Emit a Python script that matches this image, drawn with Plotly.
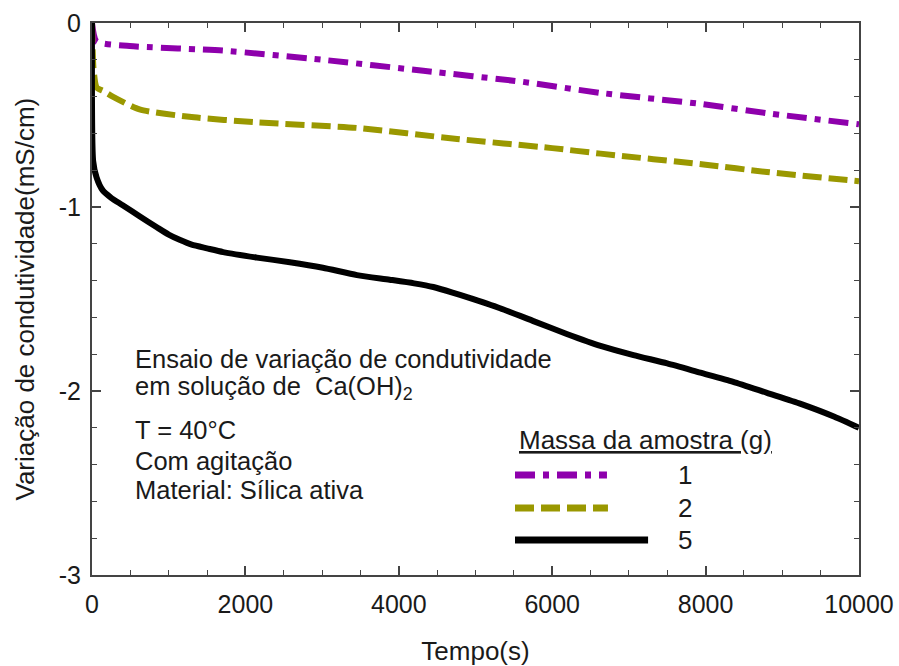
import plotly.graph_objects as go

# Time (s) and conductivity change (mS/cm) for each sample mass
tempo_1g = [0, 60, 490, 1710, 3010, 4320, 5620, 6630, 7940, 8800, 10000]
cond_1g = [0, -0.10, -0.125, -0.15, -0.20, -0.26, -0.32, -0.38, -0.44, -0.49, -0.55]

tempo_2g = [0, 20, 60, 150, 270, 620, 1270, 2150, 3450, 4760, 6000, 6630, 8000, 8800, 10000]
cond_2g = [0, -0.25, -0.35, -0.37, -0.40, -0.47, -0.51, -0.54, -0.57, -0.63, -0.68, -0.71, -0.77, -0.81, -0.86]

tempo_5g = [0, 15, 60, 140, 250, 400, 620, 845, 1000, 1150, 1300, 1500, 1710, 2150, 2580,
            3010, 3455, 3880, 4200, 4450, 4700, 4890, 5320, 5755, 6190, 6630, 7060, 7500,
            7930, 8360, 8800, 9240, 9680, 10000]
cond_5g = [0, -0.75, -0.84, -0.91, -0.95, -0.99, -1.05, -1.11, -1.15, -1.18, -1.205, -1.225,
           -1.245, -1.275, -1.30, -1.33, -1.37, -1.395, -1.415, -1.435, -1.465, -1.49, -1.55,
           -1.62, -1.69, -1.755, -1.805, -1.85, -1.90, -1.95, -2.01, -2.07, -2.14, -2.20]

legend_labels = ["1", "2", "5"]
x_ticks = [0, 2000, 4000, 6000, 8000, 10000]
y_ticks = [0, -1, -2, -3]
y_tick_text = ["0", "-1", "-2", "-3"]

PURPLE = "#8E00AC"
OLIVE = "#9A9800"
BLACK = "#000000"
FONT = "Liberation Sans, Arial, sans-serif"
TXT = "#1a1a1a"
AX = "#444444"

styles = [
    (tempo_1g, cond_1g, PURPLE, "20px,8px,6px,8px"),
    (tempo_2g, cond_2g, OLIVE, "19px,7px"),
    (tempo_5g, cond_5g, BLACK, "solid"),
]

fig = go.Figure()
for (t, c, col, dash), lab in zip(styles, legend_labels):
    fig.add_trace(go.Scatter(x=t, y=c, mode="lines", name=lab, showlegend=False,
                             line=dict(color=col, width=6, dash=dash,
                                       shape="spline", smoothing=0.6)))

axis_common = dict(
    showline=True, linecolor=AX, linewidth=2, mirror="ticks",
    ticks="inside", ticklen=9, tickwidth=1.5, tickcolor=AX,
    showgrid=False, zeroline=False, automargin=False,
    tickfont=dict(family=FONT, size=25, color=TXT),
)

fig.update_xaxes(range=[0, 10000], tickvals=x_ticks, ticktext=[str(v) for v in x_ticks],
                 minor=dict(dtick=500, ticks="inside", ticklen=5, tickcolor=AX, tickwidth=1.2),
                 title=dict(text="Tempo(s)", font=dict(family=FONT, size=26, color=TXT), standoff=26),
                 ticklabelstandoff=6, **axis_common)
fig.update_yaxes(range=[-3, 0], tickvals=y_ticks, ticktext=y_tick_text,
                 minor=dict(dtick=0.2, tick0=0, ticks="inside", ticklen=5, tickcolor=AX, tickwidth=1.2),
                 ticklabelstandoff=4, **axis_common)

annotations = []
# Y-axis title, placed close to the page edge
annotations.append(dict(text="Variação de condutividade(mS/cm)", x=-0.088, y=0.5,
                        xref="paper", yref="paper", xanchor="center", yanchor="middle",
                        textangle=-90, showarrow=False,
                        font=dict(family=FONT, size=26, color=TXT)))

# Experiment description block
notes = [
    ("Ensaio de variação de condutividade", 0.392),
    ("em solução de  Ca(OH)<sub>2</sub>", 0.338),
    ("T = 40°C", 0.2627),
    ("Com agitação", 0.2065),
    ("Material: Sílica ativa", 0.154),
]
for txt, yp in notes:
    annotations.append(dict(text=txt, x=0.0535, y=yp, xref="paper", yref="paper",
                            xanchor="left", yanchor="middle", showarrow=False,
                            font=dict(family=FONT, size=25.5, color=TXT)))

# Legend drawn inside the plot area
annotations.append(dict(text="<u>Massa da amostra (g)</u>", x=0.554, y=0.2446,
                        xref="paper", yref="paper", xanchor="left", yanchor="middle",
                        showarrow=False, font=dict(family=FONT, size=26, color=TXT)))
key_y = [0.1812, 0.1214, 0.0634]
key_x1 = [0.6714, 0.6727, 0.725]
shapes = []
for (t, c, col, dash), lab, ky, kx1 in zip(styles, legend_labels, key_y, key_x1):
    shapes.append(dict(type="line", xref="paper", yref="paper", x0=0.5515, x1=kx1,
                       y0=ky, y1=ky, line=dict(color=col, width=7, dash=dash)))
    annotations.append(dict(text=lab, x=0.773, y=ky, xref="paper", yref="paper",
                            xanchor="center", yanchor="middle", showarrow=False,
                            font=dict(family=FONT, size=26, color=TXT)))

fig.update_layout(
    width=899, height=666,
    margin=dict(l=92, r=40, t=23, b=91),
    paper_bgcolor="white", plot_bgcolor="white",
    annotations=annotations, shapes=shapes,
)

fig.write_html("out.html")
